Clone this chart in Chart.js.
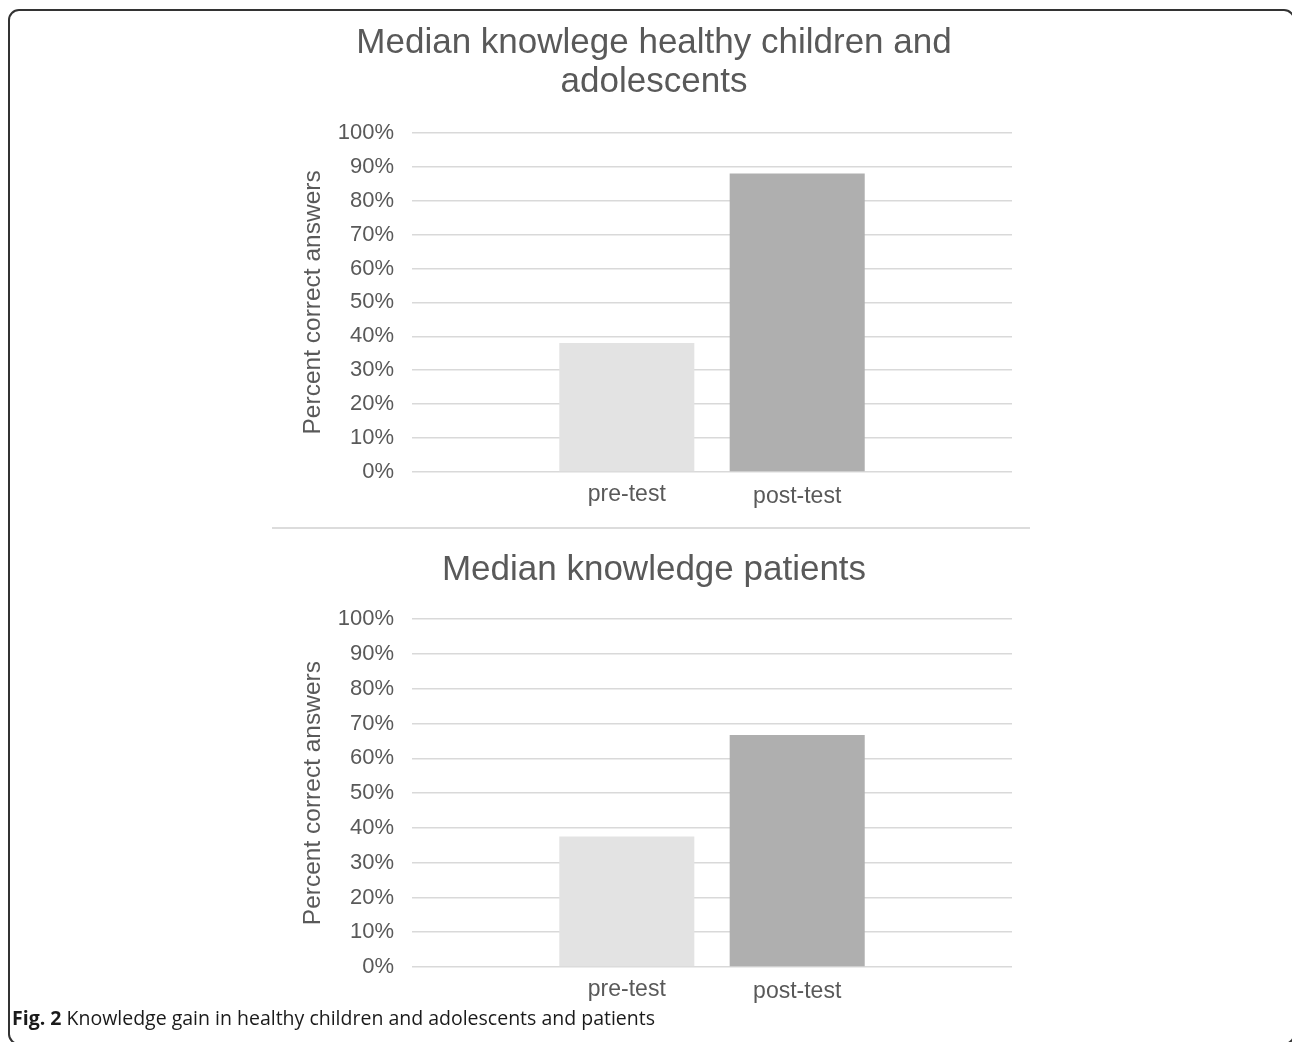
<!DOCTYPE html>
<html>
<head>
<meta charset="utf-8">
<script src="https://cdn.jsdelivr.net/npm/chart.js@4.4.1/dist/chart.umd.min.js"></script>
<style>
  html, body { margin: 0; padding: 0; background: #ffffff; overflow: hidden; }
  body { width: 1292px; height: 1042px; position: relative; }
  #frame { position: absolute; left: 8px; top: 9px; width: 1287px; height: 1036px; box-sizing: border-box;
           border: 2px solid #333333; border-radius: 11px; }
  #sep { position: absolute; left: 272px; top: 527px; width: 758px; height: 0; border-top: 2px solid #dcdcdc; }
  canvas { position: absolute; }
  #c1 { left: 260px; top: 0px; }
  #c2 { left: 260px; top: 530px; }
  #caption { position: absolute; left: 12px; top: 1004px; font-family: 'Open Sans', 'Noto Sans', sans-serif;
             font-size: 19.5px; color: #1a1a1a; white-space: nowrap; }
  #caption b { font-weight: 700; }
</style>
</head>
<body>
<div id="frame"></div>
<canvas id="c1" width="770" height="520" style="width:770px;height:520px"></canvas>
<div id="sep"></div>
<canvas id="c2" width="770" height="485" style="width:770px;height:485px"></canvas>
<div id="caption"><b>Fig. 2</b> Knowledge gain in healthy children and adolescents and patients</div>
<script>
// ---- data ----
const categories = ['pre-test', 'post-test'];
const healthyValues = [38, 88];
const patientValues = [37.5, 66.7];
const barColors = ['#e3e3e3', '#afafaf'];
const titleHealthy = ['Median knowlege healthy children and', 'adolescents'];
const titlePatients = 'Median knowledge patients';
const yAxisTitle = 'Percent correct answers';
const yMin = 0, yMax = 100, yStep = 10;

const FONT = "'Liberation Sans', Arial, sans-serif";
const TEXT = '#595959';

const barLabelPlugin = {
  id: 'barLabels',
  afterDraw(chart) {
    const ctx = chart.ctx;
    ctx.save();
    ctx.font = '23px ' + FONT;
    ctx.fillStyle = TEXT;
    ctx.textAlign = 'center';
    ctx.textBaseline = 'middle';
    chart.data.datasets.forEach((ds, i) => {
      const meta = chart.getDatasetMeta(i);
      const bar = meta.data[0];
      if (bar) ctx.fillText(ds.label, bar.x, chart.chartArea.bottom + 23 + i * 2);
    });
    ctx.restore();
  }
};

function makeChart(id, values, title, padTop, titlePadBottom) {
  const datasets = categories.map((c, i) => ({
    label: c,
    data: [values[i]],
    backgroundColor: barColors[i],
    borderColor: barColors[i],
    borderWidth: 0,
    categoryPercentage: 0.568,
    barPercentage: 0.7925
  }));
  return new Chart(document.getElementById(id), {
    type: 'bar',
    data: { labels: [''], datasets },
    plugins: [barLabelPlugin],
    options: {
      responsive: false,
      animation: false,
      devicePixelRatio: 1,
      layout: { padding: { top: padTop, right: 18, left: 36, bottom: 0 } },
      plugins: {
        legend: { display: false },
        tooltip: { enabled: false },
        title: {
          display: true,
          text: title,
          color: TEXT,
          font: { family: FONT, size: 35, weight: 'normal', lineHeight: 1.12 },
          padding: { top: 0, bottom: titlePadBottom }
        }
      },
      scales: {
        x: {
          grid: { display: false },
          border: { display: false },
          ticks: { display: false },
          afterFit(scale) { scale.height = 48; }
        },
        y: {
          min: yMin, max: yMax,
          ticks: {
            stepSize: yStep,
            color: TEXT,
            padding: 18,
            font: { family: FONT, size: 22 },
            callback: v => v + '%'
          },
          grid: { color: '#d9d9d9', lineWidth: 1.5, drawTicks: false },
          border: { display: false },
          title: {
            display: true,
            text: yAxisTitle,
            color: TEXT,
            font: { family: FONT, size: 24.5, lineHeight: 1.2 },
            padding: { top: 3, bottom: 0 }
          },
          afterFit(scale) { scale.width = 116; }
        }
      }
    }
  });
}

makeChart('c1', healthyValues, titleHealthy, 24, 30.4);
makeChart('c2', patientValues, titlePatients, 20.5, 29.5);
</script>
</body>
</html>
